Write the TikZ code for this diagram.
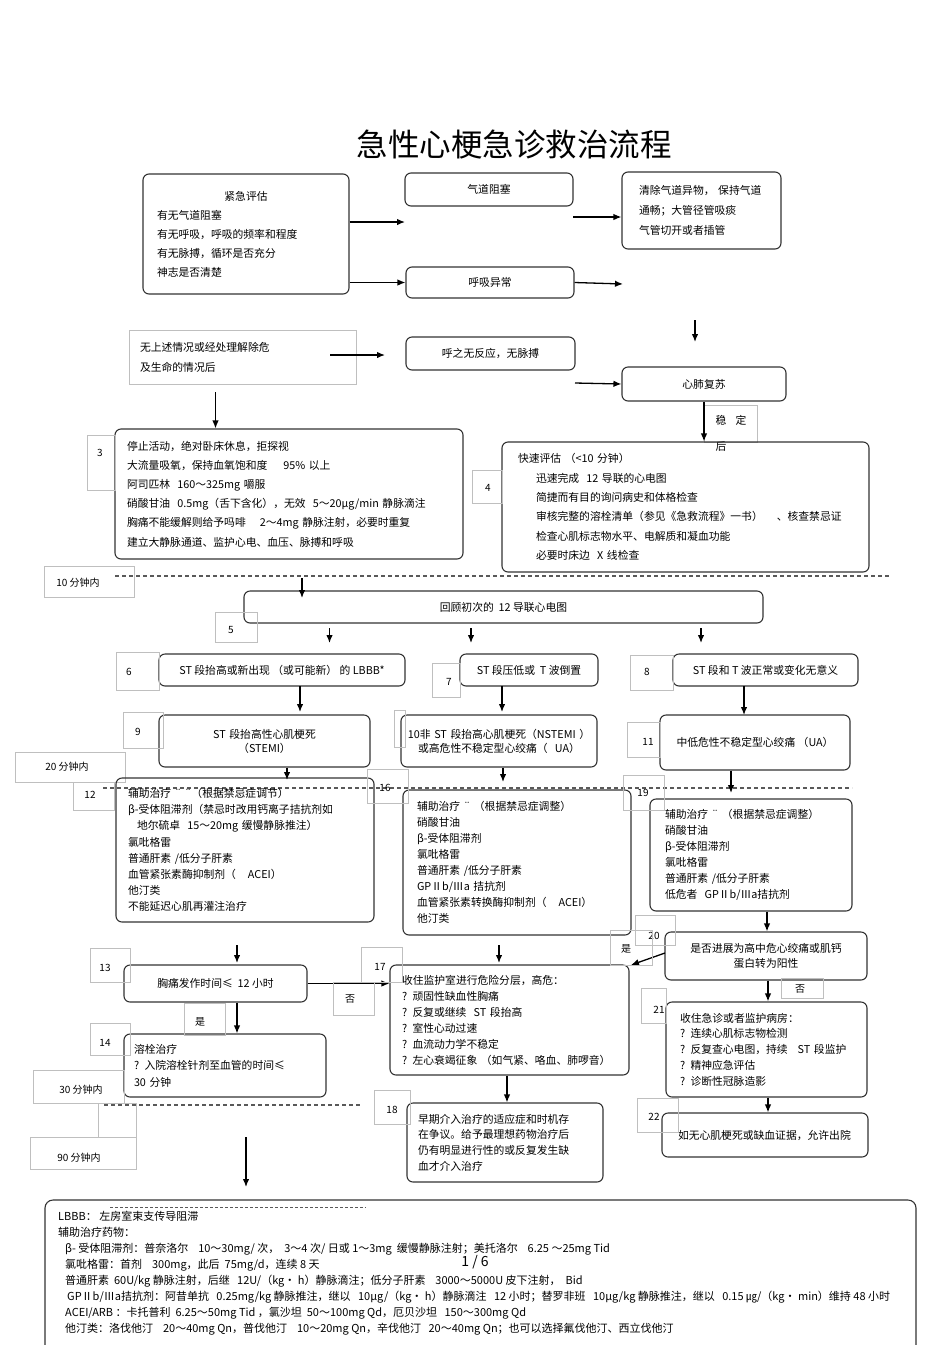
\documentclass[tikz,border=0pt]{standalone}
\usepackage{fontspec}
\setmainfont{Noto Sans CJK SC}
\usetikzlibrary{arrows.meta}

\begin{document}
\begin{tikzpicture}[x=1pt,y=-1pt]
\tikzstyle{flowbox}=[draw=black!80,line width=1.1pt,rounded corners=6pt,inner xsep=12pt,inner ysep=0pt,font=\fontsize{10.8}{16}\selectfont]
\tikzstyle{plainbox}=[draw=black!25,line width=0.7pt,inner xsep=11pt,inner ysep=0pt,font=\fontsize{10.8}{20}\selectfont]
\tikzstyle{numframe}=[draw=black!25,line width=0.6pt]
\tikzstyle{numtext}=[inner sep=0pt,font=\fontsize{10}{12}\selectfont]
\tikzstyle{arr}=[line width=1.3pt,-{Latex[length=8pt,width=6.5pt]}]
\tikzstyle{timeline}=[draw=black!65,line width=1.2pt,dash pattern=on 4pt off 3pt]
\useasboundingbox (0,0) rectangle (950,1345);

% title
\node[font=\fontsize{31.5}{31.5}\selectfont] (title) at (514,145) {急性心梗急诊救治流程};

% first assessment
\node[flowbox,inner xsep=14pt,text width=178pt,minimum width=206pt,minimum height=120pt,font=\fontsize{10.8}{19}\selectfont] (assess) at (246,234)
 {\makebox[\linewidth]{紧急评估}\\有无气道阻塞\\有无呼吸，呼吸的频率和程度\\有无脉搏，循环是否充分\\神志是否清楚};
\node[flowbox,minimum width=168pt,minimum height=33pt] (airway) at (489,189.5) {气道阻塞};
\node[flowbox,inner xsep=17pt,text width=125pt,minimum width=159pt,minimum height=77pt,font=\fontsize{10.8}{20}\selectfont] (clear) at (701.5,210.5)
 {清除气道异物， 保持气道\\通畅；大管径管吸痰\\气管切开或者插管};
\node[flowbox,minimum width=168pt,minimum height=31pt] (breath) at (490,282.5) {呼吸异常};
\node[plainbox,text width=205pt,minimum width=227pt,minimum height=54pt] (none) at (242.5,357)
 {无上述情况或经处理解除危\\及生命的情况后};
\node[flowbox,minimum width=169pt,minimum height=33pt] (nopulse) at (490.5,353.5) {呼之无反应，无脉搏};
\node[flowbox,minimum width=164pt,minimum height=34pt] (cpr) at (704,384) {心肺复苏};

\coordinate (a1) at (405,222);
\coordinate (a2) at (573,217);
\coordinate (a3) at (623,284);
\coordinate (a4) at (330,355);
\coordinate (a5) at (385,355);
\coordinate (a6) at (575,383);
\coordinate (a7) at (695,320);
\coordinate (a8) at (695,342);
\coordinate (a9) at (215.5,392);
\draw[arr] (assess.east |- a1) -- (a1);
\draw[arr] (assess.east |- breath.west) -- (breath.west);
\draw[arr] (a2) -- (clear.west |- a2);
\draw[arr] (breath.east) -- (a3);
\draw[arr] (a4) -- (a5);
\draw[arr] (a6) -- (cpr.west);
\draw[arr] (a7) -- (a8);

% stable label
\draw[numframe] (704,405) rectangle (757,442);
\node[numtext,font=\fontsize{10.8}{12}\selectfont] (stab) at (731,420) {稳\hspace{9pt}定};
\node[numtext,font=\fontsize{10.8}{12}\selectfont] (stabb) at (721,446) {后};

% step 3 and 4
\node[flowbox,text width=324pt,minimum width=348pt,minimum height=130pt,font=\fontsize{10.8}{19.2}\selectfont] (care) at (289,494)
 {停止活动，绝对卧床休息，拒探视\\大流量吸氧，保持血氧饱和度\hspace{16pt}95\% 以上\\阿司匹林\ \ 160～325mg 嚼服\\硝酸甘油\ \ 0.5mg（舌下含化），无效\ \ 5～20μg/min 静脉滴注\\胸痛不能缓解则给予吗啡\hspace{14pt}2～4mg 静脉注射，必要时重复\\建立大静脉通道、监护心电、血压、脉搏和呼吸};
\node[flowbox,inner xsep=16pt,text width=335pt,minimum width=367pt,minimum height=130pt,font=\fontsize{10.8}{19.4}\selectfont] (quick) at (685.5,507)
 {快速评估\ （<10 分钟）\\\hspace*{18pt}迅速完成\ \ 12 导联的心电图\\\hspace*{18pt}简捷而有目的询问病史和体格检查\\\hspace*{18pt}审核完整的溶栓清单（参见《急救流程》一书）\hspace{14pt}、核查禁忌证\\\hspace*{18pt}检查心肌标志物水平、电解质和凝血功能\\\hspace*{18pt}必要时床边\ \ X 线检查};
\draw[arr] (a9) -- (a9 |- care.north);
\draw[arr] (cpr.south) -- (cpr.south |- quick.north);
\draw[numframe] (87,435) rectangle (115,490);
\node[numtext] (l3) at (100,453) {3};
\draw[numframe] (472,470) rectangle (502,503);
\node[numtext] (l4) at (488,488) {4};

% ten minutes
\draw[timeline] (115,576) -- (890,576);
\draw[numframe] (44,566) rectangle (134,597);
\node[numtext] (t10) at (78,583) {10 分钟内};

\node[flowbox,minimum width=519pt,minimum height=32pt] (ecg) at (503.5,607) {回顾初次的\ \ 12 导联心电图};
\coordinate (b1) at (302,578);
\coordinate (b2) at (302,598);
\draw[arr] (b1) -- (b2);
\draw[numframe] (215,612) rectangle (257,642);
\node[numtext] (l5) at (231,630) {5};

\node[flowbox,minimum width=246pt,minimum height=32pt] (stup) at (282,670) {ST 段抬高或新出现 （或可能新） 的 LBBB*};
\node[flowbox,minimum width=138pt,minimum height=32pt] (stdown) at (529,670) {ST 段压低或\ \ T 波倒置};
\node[flowbox,minimum width=185pt,minimum height=32pt] (stnorm) at (765.5,670) {ST 段和 T 波正常或变化无意义};
\foreach \x in {329.5,471,701}
  \draw[arr] (\x,628) -- (\x,643);
\draw[numframe] (116,652) rectangle (159,690);
\node[numtext] (l6) at (129,672) {6};
\draw[numframe] (432,663) rectangle (460,697);
\node[numtext] (l7) at (449,682) {7};
\draw[numframe] (630,655) rectangle (673,690);
\node[numtext] (l8) at (647,672) {8};

\node[flowbox,align=center,text width=187pt,minimum width=211pt,minimum height=52pt,font=\fontsize{10.8}{14}\selectfont] (stemi) at (264.5,741)
 {ST 段抬高性心肌梗死\\（STEMI）};
\node[flowbox,align=center,text width=190pt,inner xsep=3pt,minimum width=196pt,minimum height=52pt,font=\fontsize{10.8}{14}\selectfont] (nstemi) at (499,741)
 {10非 ST 段抬高心肌梗死（NSTEMI ）\\或高危性不稳定型心绞痛（\ \ UA）};
\node[flowbox,minimum width=190pt,minimum height=55pt] (ua) at (755,742.5) {中低危性不稳定型心绞痛 （UA）};
\draw[arr] (300,686) -- (300,712);
\draw[arr] (502,686) -- (502,712);
\draw[arr] (744,686) -- (744,715);
\draw[numframe] (123,712) rectangle (163,748);
\node[numtext] (l9) at (138,732) {9};
\draw[numframe] (394,710) rectangle (405,747);
\draw[numframe] (627,722) rectangle (660,757);
\node[numtext] (l11) at (648,742) {11};

% twenty minutes
\draw[numframe] (15,752) rectangle (125,782);
\node[numtext] (t20) at (67,767) {20 分钟内};
\draw[timeline] (103,788) -- (852,788);

\node[flowbox,text width=234pt,minimum width=258pt,minimum height=144pt,font=\fontsize{10.8}{16.2}\selectfont] (adj1) at (245,850)
 {辅助治疗 ¨ ¨（根据禁忌症调节）\\β-受体阻滞剂（禁忌时改用钙离子拮抗剂如\\\hspace*{9pt}地尔硫卓\ \ 15～20mg 缓慢静脉推注）\\氯吡格雷\\普通肝素 /低分子肝素\\血管紧张素酶抑制剂（\hspace{12pt}ACEI）\\他汀类\\不能延迟心肌再灌注治疗};
\node[flowbox,inner xsep=14pt,text width=200pt,minimum width=228pt,minimum height=145pt,font=\fontsize{10.8}{16}\selectfont] (adj2) at (517,862.5)
 {辅助治疗 ¨ （根据禁忌症调整）\\硝酸甘油\\β-受体阻滞剂\\氯吡格雷\\普通肝素 /低分子肝素\\GPⅡb/Ⅲa 拮抗剂\\血管紧张素转换酶抑制剂（\hspace{12pt}ACEI）\\他汀类};
\node[flowbox,inner xsep=15pt,text width=172pt,minimum width=202pt,minimum height=112pt,font=\fontsize{10.8}{16}\selectfont] (adj3) at (751,855)
 {辅助治疗 ¨ （根据禁忌症调整）\\硝酸甘油\\β-受体阻滞剂\\氯吡格雷\\普通肝素 /低分子肝素\\低危者\ \ GPⅡb/Ⅲa拮抗剂};
\draw[arr] (stemi.south -| 287,0) -- (287,780);
\draw[arr] (nstemi.south -| 503,0) -- (503,782);
\draw[arr] (ua.south -| 731,0) -- (731,793);
\draw[numframe] (73,782) rectangle (114,810);
\node[numtext] (l12) at (90,795) {12};
\draw[numframe] (367,769) rectangle (408,803);
\node[numtext] (l16) at (385,788) {16};
\draw[numframe] (623,775) rectangle (664,810);
\node[numtext] (l19) at (643,793) {19};

% decisions
\node[flowbox,align=center,text width=178pt,minimum width=202pt,minimum height=48pt,font=\fontsize{10.8}{15}\selectfont] (prog) at (766,956)
 {是否进展为高中危心绞痛或肌钙\\蛋白转为阳性};
\node[flowbox,minimum width=183pt,minimum height=37pt] (pain) at (215.5,983.5) {胸痛发作时间≤\ \ 12 小时};
\node[flowbox,text width=215pt,minimum width=239pt,minimum height=110pt,font=\fontsize{10.8}{16}\selectfont] (icu) at (509.5,1020)
 {收住监护室进行危险分层，高危：\\? 顽固性缺血性胸痛\\? 反复或继续\ \ ST 段抬高\\? 室性心动过速\\? 血流动力学不稳定\\? 左心衰竭征象 （如气紧、咯血、肺啰音）};
\node[flowbox,inner xsep=14pt,text width=173pt,minimum width=201pt,minimum height=95pt,font=\fontsize{10.8}{15.8}\selectfont] (ward) at (766.5,1049.5)
 {收住急诊或者监护病房：\\? 连续心肌标志物检测\\? 反复查心电图，持续\hspace{10pt}ST 段监护\\? 精神应急评估\\? 诊断性冠脉造影};
\node[flowbox,inner xsep=10pt,text width=182pt,minimum width=202pt,minimum height=63pt,font=\fontsize{10.8}{16.5}\selectfont] (lysis) at (225,1065.5)
 {溶栓治疗\\? 入院溶栓针剂至血管的时间≤\\30 分钟};
\node[flowbox,inner xsep=11pt,text width=174pt,minimum width=196pt,minimum height=79pt,font=\fontsize{10.8}{15.7}\selectfont] (pci) at (505,1142.5)
 {早期介入治疗的适应症和时机存\\在争议。给予最理想药物治疗后\\仍有明显进行性的或反复发生缺\\血才介入治疗};
\node[flowbox,inner xsep=16pt,text width=174pt,minimum width=206pt,minimum height=44pt] (home) at (765,1135) {如无心肌梗死或缺血证据，允许出院};

\draw[arr] (237,945) -- (237,963);
\draw[arr] (499,945) -- (499,963);
\draw[arr] (adj3.south -| 767,0) -- (prog.north -| 767,0);
\coordinate (c1) at (665,953);
\coordinate (c2) at (631,965);
\draw[arr] (c1) -- (c2);
\draw[arr] (pain.east) -- (pain.east -| icu.west);
\draw[arr] (pain.south -| 237,0) -- (lysis.north -| 237,0);
\draw[arr] (prog.south -| 768,0) -- (ward.north -| 768,0);
\draw[arr] (icu.south -| 507,0) -- (pci.north -| 507,0);
\draw[arr] (ward.south -| 768,0) -- (home.north -| 768,0);
\coordinate (c3) at (246,1137);
\coordinate (c4) at (246,1187);
\draw[arr] (c3) -- (c4);

\draw[numframe] (635,915) rectangle (675,945);
\node[numtext] (l20) at (654,936) {20};
\draw[numframe] (610,930) rectangle (652,965);
\node[numtext] (yes1) at (626,949) {是};
\draw[numframe] (90,948) rectangle (130,982);
\node[numtext] (l13) at (105,968) {13};
\draw[numframe] (361,947) rectangle (402,982);
\node[numtext] (l17) at (380,967) {17};
\draw[numframe] (333,982) rectangle (374,1015);
\node[numtext] (no1) at (350,999) {否};
\draw[numframe] (781,978) rectangle (823,998);
\node[numtext] (no2) at (800,989) {否};
\draw[numframe] (641,988) rectangle (666,1023);
\node[numtext] (l21) at (659,1010) {21};
\draw[numframe] (184,1003) rectangle (225,1035);
\node[numtext] (yes2) at (200,1022) {是};
\draw[numframe] (90,1023) rectangle (130,1055);
\node[numtext] (l14) at (105,1043) {14};
\draw[numframe] (374,1090) rectangle (410,1124);
\node[numtext] (l18) at (392,1110) {18};
\draw[numframe] (637,1098) rectangle (678,1132);
\node[numtext] (l22) at (654,1117) {22};

% thirty and ninety minutes
\draw[numframe] (33,1070) rectangle (124,1103);
\node[numtext] (t30) at (81,1090) {30 分钟内};
\draw[timeline] (104,1105) -- (362,1105);
\draw[numframe] (98,1103) rectangle (136,1137);
\draw[numframe] (30,1137) rectangle (136,1169);
\node[numtext] (t90) at (79,1158) {90 分钟内};

% notes
\draw[draw=black!80,line width=1.1pt,rounded corners=8pt] (45,1350) -- (45,1200) -- (916,1200) -- (916,1350);
\draw[draw=black!65,line width=1pt,dash pattern=on 3pt off 2pt] (110,1207) -- (366,1207);
\node[anchor=north west,inner sep=0pt,align=left,font=\fontsize{11}{16}\selectfont] (notes) at (58,1211)
 {LBBB：\ 左房室束支传导阻滞\\辅助治疗药物：\\
 \hspace*{7pt}β- 受体阻滞剂：普奈洛尔\ \ \ \ 10～30mg/ 次，\ \ 3～4 次/ 日或\ 1～3mg\ \ 缓慢静脉注射；美托洛尔\ \ \ \ 6.25 ～25mg Tid\\
 \hspace*{7pt}氯吡格雷：首剂\ \ \ \ 300mg，此后\ \ 75mg/d，连续\ 8 天\\
 \hspace*{7pt}普通肝素\ \ 60U/kg 静脉注射，后继\ \ \ 12U/（kg· h）静脉滴注；低分子肝素\ \ \ \ 3000～5000U 皮下注射，\ \ Bid\\
 \hspace*{9pt}GPⅡb/Ⅲa拮抗剂：阿昔单抗\ \ \ 0.25mg/kg 静脉推注，继以\ \ \ 10μg/（kg· h）静脉滴注\ \ \ 12 小时；替罗非班\ \ \ 10μg/kg 静脉推注，继以\ \ \ 0.15 ㎍/（kg· min）维持 48 小时\\
 \hspace*{7pt}ACEI/ARB ：卡托普利\ \ 6.25～50mg Tid ，氯沙坦\ \ 50～100mg Qd，厄贝沙坦\ \ \ 150～300mg Qd\\
 \hspace*{7pt}他汀类：洛伐他汀\ \ \ \ 20～40mg Qn，普伐他汀\ \ \ \ 10～20mg Qn，辛伐他汀\ \ \ 20～40mg Qn；也可以选择氟伐他汀、西立伐他汀};
\node[font=\fontsize{14}{14}\selectfont] (page) at (475,1262) {1 / 6};
\end{tikzpicture}
\end{document}
